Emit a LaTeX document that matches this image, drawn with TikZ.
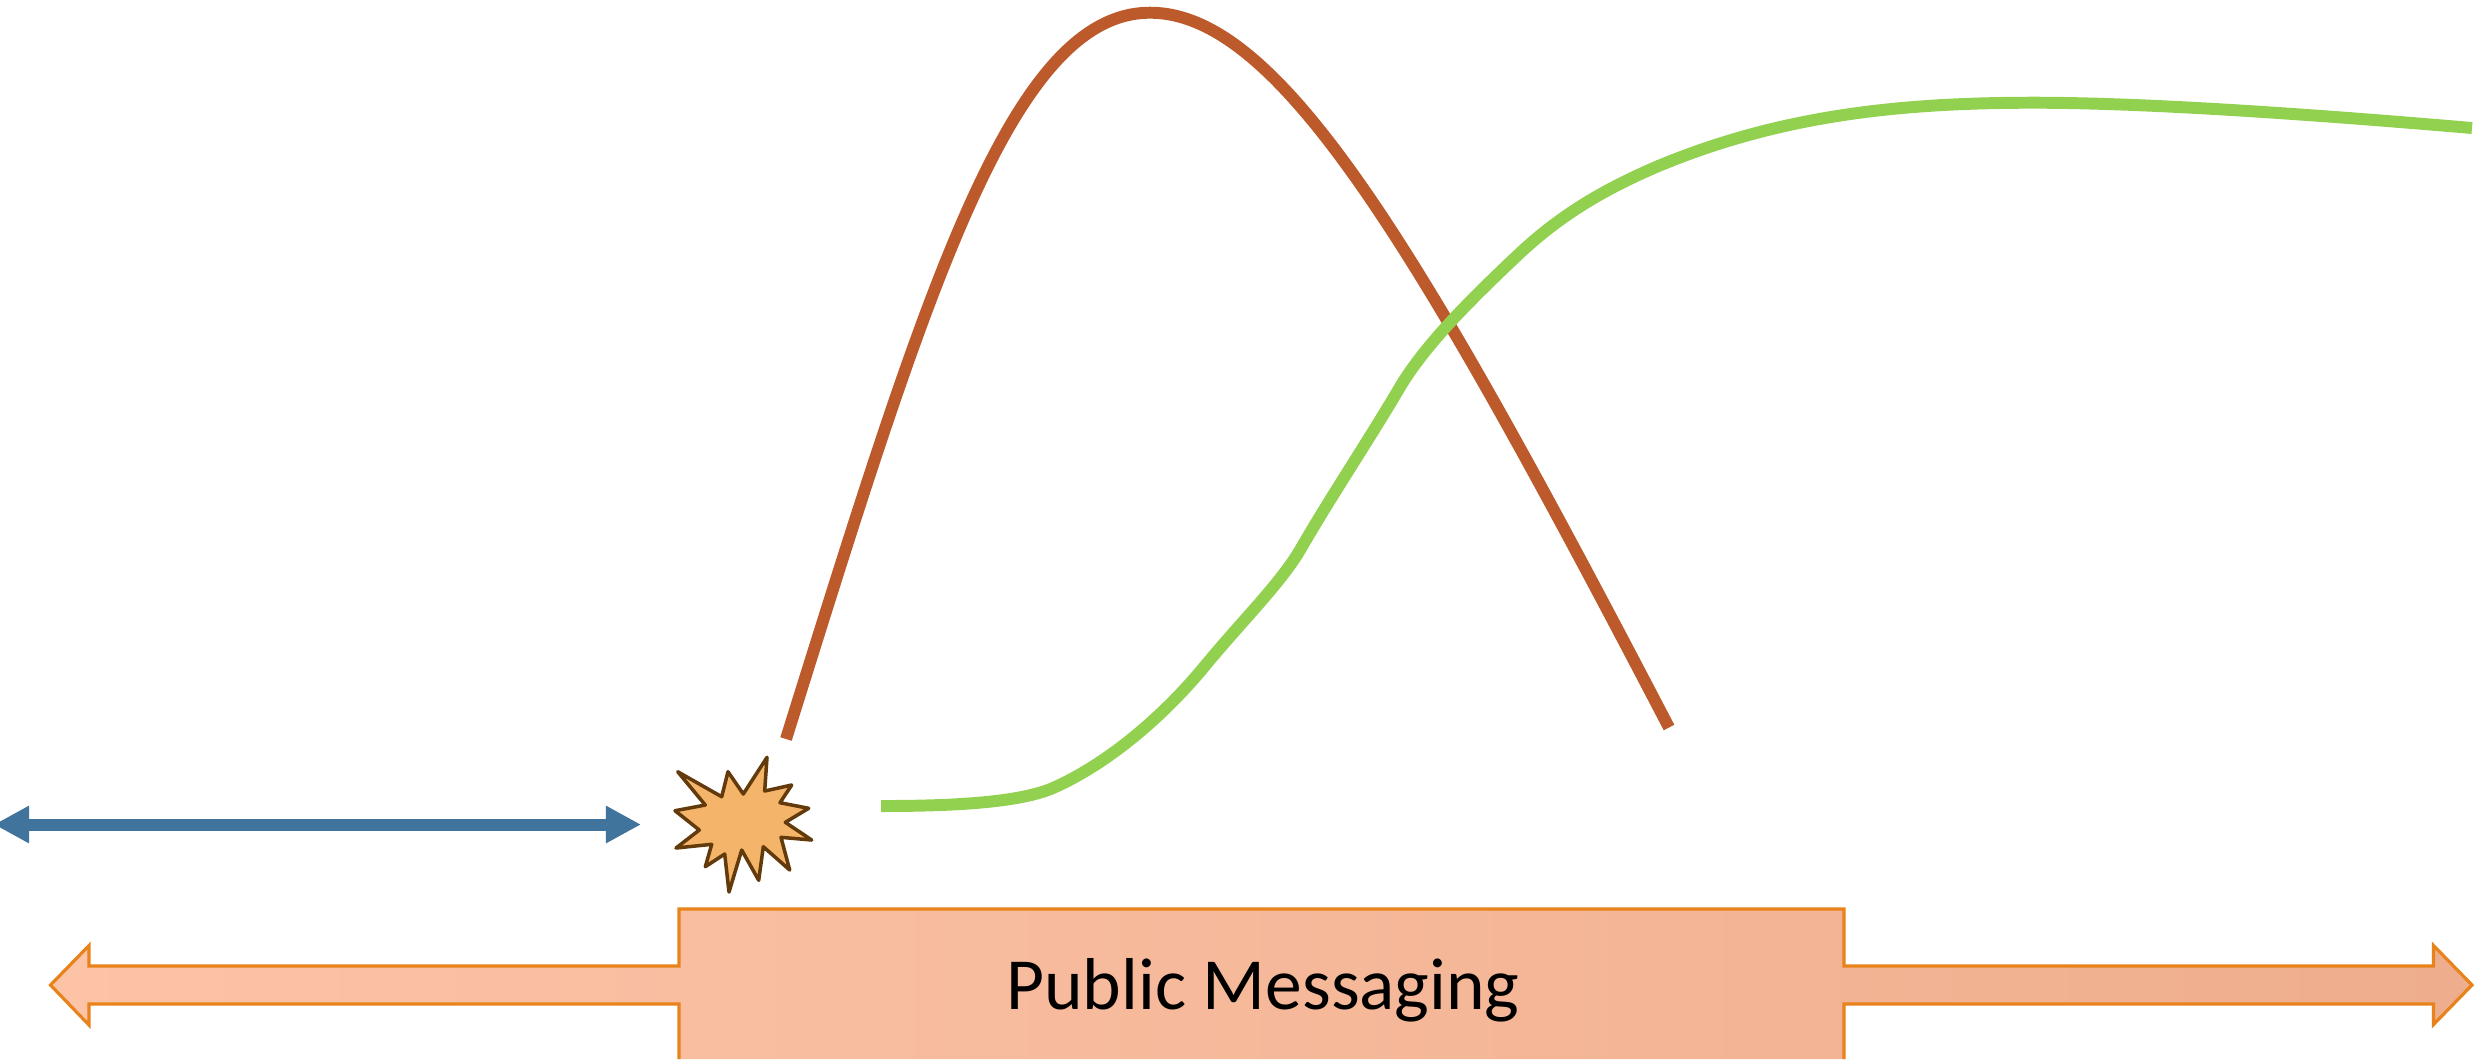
\documentclass[tikz,border=0pt]{standalone}
\usepackage{xcolor}
\usepackage{fontspec}
\setmainfont{Carlito}
\usetikzlibrary{arrows.meta}
\definecolor{curvebrown}{RGB}{189,90,44}
\definecolor{curvegreen}{RGB}{146,208,80}
\definecolor{gapblue}{RGB}{65,116,156}
\definecolor{burstfill}{RGB}{244,180,105}
\definecolor{burstline}{RGB}{99,58,11}
\definecolor{msgline}{RGB}{232,130,26}
\definecolor{msgleft}{RGB}{253,195,167}
\definecolor{msgmid}{RGB}{246,191,165}
\definecolor{msgright}{RGB}{238,174,141}

\begin{document}
\begin{tikzpicture}[
    x=0.01cm, y=-0.01cm,
    brownline/.style={draw=curvebrown, line width=3.4pt},
    greenline/.style={draw=curvegreen, line width=3.4pt},
    gaparrow/.style={draw=gapblue, line width=3.4pt, {Triangle[length=0.35cm,width=0.35cm]}-{Triangle[length=0.35cm,width=0.35cm]}},
    burst/.style={draw=burstline, fill=burstfill, line width=1pt, line join=round},
    msgshape/.style={draw=msgline, line width=0.9pt, left color=msgleft, middle color=msgmid, right color=msgright},
    msglabel/.style={anchor=base, inner sep=0pt, font=\fontsize{20.9}{24}\selectfont}
]
    \useasboundingbox (0,0) rectangle (2484,1059);

    \draw[brownline] (786,739) .. controls (924,298) and (1010,12.7) .. (1150,12.7)
        .. controls (1280,12.7) and (1419,248) .. (1669,727.5);
    \draw[greenline] (881,806) .. controls (950,806) and (1018,803) .. (1053,788)
        .. controls (1105,765) and (1160,720) .. (1204,667)
        .. controls (1240,623) and (1280,584) .. (1300,550)
        .. controls (1333,493) and (1367,443) .. (1400,387)
        .. controls (1425,345) and (1470,300) .. (1520,253)
        .. controls (1565,211) and (1610,187) .. (1656,167)
        .. controls (1780,115) and (1900,102.7) .. (2034,102.7)
        .. controls (2150,102.7) and (2320,115) .. (2472,128);

    \coordinate (gapleft) at (-6,824.5);
    \coordinate (gapright) at (641,824.5);
    \draw[gaparrow] (gapleft) -- (gapright);

    \draw[burst] (677.7,771.7) -- (721.7,796.7) -- (728,771.7) -- (743.3,794) -- (767,757.3) -- (764.7,791) -- (791.7,785) -- (780,802.7) -- (808.7,808.3) -- (785.3,822.3) -- (811.7,840) -- (781,837.3) -- (789.7,870) -- (763.3,846.7) -- (758.7,880.3) -- (741.7,850) -- (729,892) -- (724.7,854) -- (705.3,866.7) -- (711.7,844.3) -- (676,848) -- (699.3,830) -- (675,810.7) -- (705.3,805) -- cycle;

    \draw[msgshape] (679,1059) -- (679,1004) -- (89,1004) -- (89,1025) -- (50.5,985) -- (89,945.5) -- (89,966) -- (679,966) -- (679,909) -- (1844,909) -- (1844,966) -- (2433.5,966) -- (2433.5,945.5) -- (2472,985) -- (2433.5,1024.5) -- (2433.5,1004) -- (1844,1004) -- (1844,1059);

    \node[msglabel] (msg) at (1263,1009) {Public Messaging};
\end{tikzpicture}
\end{document}
